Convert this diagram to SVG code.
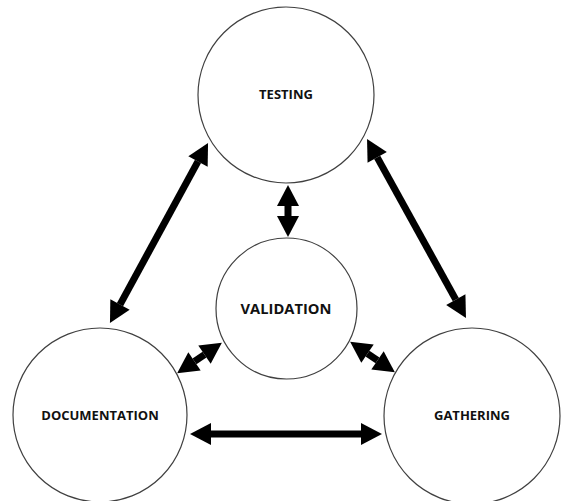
<svg xmlns="http://www.w3.org/2000/svg" width="561" height="501" viewBox="0 0 561 501">
<style>
.node{fill:#fff;stroke:#404040;stroke-width:1.2}
.lbl{font-family:"Open Sans","Liberation Sans",sans-serif;font-weight:bold;fill:#111;text-anchor:middle;dominant-baseline:central}
.arr{stroke:#000;stroke-width:7;fill:none;marker-start:url(#h);marker-end:url(#h)}
</style>
<defs>
<marker id="h" markerUnits="userSpaceOnUse" markerWidth="22" markerHeight="24" refX="0" refY="12" viewBox="0 0 22 24" orient="auto-start-reverse" overflow="visible">
<path d="M0,1 L21,12 L0,23 z" fill="#000"/>
</marker>
</defs>
<rect width="561" height="501" fill="#fff"/>
<g id="testing"><circle class="node" cx="286" cy="95" r="88"/><text class="lbl" x="286" y="94" font-size="13">TESTING</text></g>
<g id="validation"><circle class="node" cx="286.5" cy="308.5" r="70.5"/><text class="lbl" x="286" y="308" font-size="14.7">VALIDATION</text></g>
<g id="documentation"><circle class="node" cx="100" cy="415" r="87"/><text class="lbl" x="100" y="415" font-size="13">DOCUMENTATION</text></g>
<g id="gathering"><circle class="node" cx="472" cy="416" r="88"/><text class="lbl" x="472" y="415" font-size="13">GATHERING</text></g>
<g id="connectors">
<line class="arr" x1="288" y1="206" x2="288" y2="216"/>
<line class="arr" x1="198" y1="161.4" x2="120" y2="304.6"/>
<line class="arr" x1="377.2" y1="157.4" x2="455.8" y2="299.6"/>
<line class="arr" x1="211" y1="434" x2="361" y2="434"/>
<line class="arr" x1="204.5" y1="354.6" x2="194.5" y2="361.4"/>
<line class="arr" x1="367.5" y1="353.6" x2="377.5" y2="360.4"/>
</g>
</svg>
